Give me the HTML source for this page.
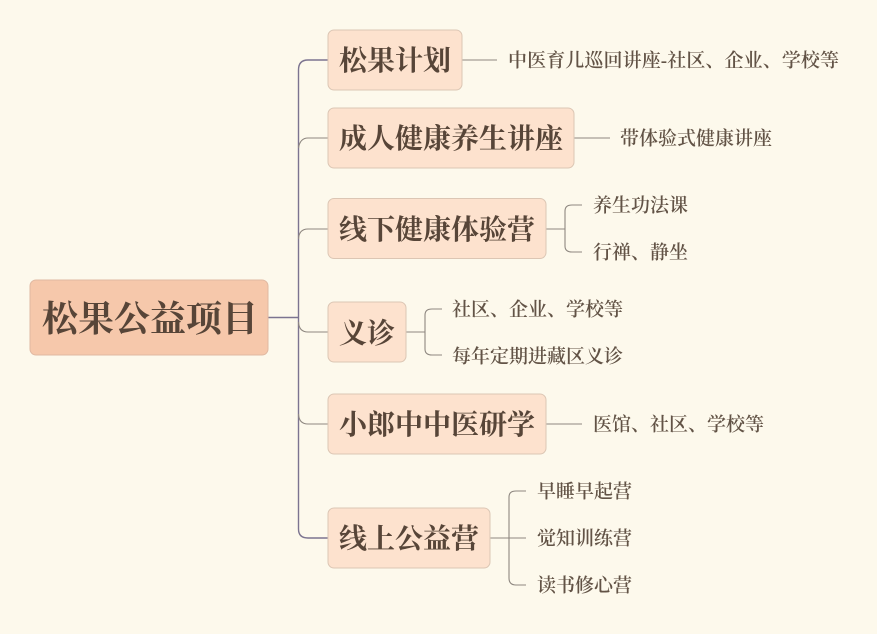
<!DOCTYPE html>
<html><head><meta charset="utf-8"><style>
html,body{margin:0;padding:0;background:#fdf9ec;width:877px;height:634px;overflow:hidden}
svg{display:block}
text{font-family:"Liberation Serif","Noto Serif CJK SC",serif;fill:#574538}
.r{font-size:36px;font-weight:700}
.c{font-size:28px;font-weight:700}
.l{font-size:19px;font-weight:600;fill:#625346}
.b{fill:#fde2ce;stroke:#dcc6b4;stroke-width:1}
path{fill:none;stroke:#8e8780;stroke-width:1.1}
.v{stroke:#7c7490;stroke-width:1.4}
</style></head><body>
<svg width="877" height="634" viewBox="0 0 877 634" xmlns="http://www.w3.org/2000/svg">
<rect width="877" height="634" fill="#fdf9ec"/>
<path class="v" d="M268 317.500H298"/>
<path class="v" d="M328 60H308Q298.500 60 298.500 70V529Q298.500 538 308 538H328"/>
<path d="M328 138H308Q300 138 298.500 148M328 229H308Q299 229 298.500 239M298.500 322Q299 332 308 332H328M298.500 414Q299 424 308 424H328"/>
<path d="M462 60H497M574 138H610"/>
<path d="M546 229H565M582 205H572Q565 205 565 211V246Q565 252 572 252H582"/>
<path d="M406 332H425M442 309H432Q425 309 425 315V349Q425 355 432 355H442"/>
<path d="M546 424H582"/>
<path d="M490 538H526M526 491H516Q509 491 509 497V578Q509 585 516 585H526"/>
<rect x="30" y="280" width="238" height="75" rx="6" fill="#f6c8ab" stroke="#e0b9a2"/>
<rect class="b" x="328" y="30" width="134" height="60" rx="6"/>
<rect class="b" x="328" y="108" width="246" height="60" rx="6"/>
<rect class="b" x="328" y="198.500" width="218" height="60" rx="6"/>
<rect class="b" x="328" y="302" width="78" height="60" rx="6"/>
<rect class="b" x="328" y="394" width="218" height="60" rx="6"/>
<rect class="b" x="328" y="508" width="162" height="60" rx="6"/>
<text class="r" x="42" y="331">松果公益项目</text>
<text class="c" x="339" y="70">松果计划</text>
<text class="c" x="339" y="148">成人健康养生讲座</text>
<text class="c" x="339" y="239">线下健康体验营</text>
<text class="c" x="339" y="343">义诊</text>
<text class="c" x="339" y="434">小郎中中医研学</text>
<text class="c" x="339" y="548">线上公益营</text>
<text class="l" x="508" y="66.500" style="letter-spacing:.1px">中医育儿巡回讲座-社区、企业、学校等</text>
<text class="l" x="620" y="144.500">带体验式健康讲座</text>
<text class="l" x="593" y="211.500">养生功法课</text>
<text class="l" x="593" y="258.500">行禅、静坐</text>
<text class="l" x="452" y="315.500">社区、企业、学校等</text>
<text class="l" x="452" y="362.500">每年定期进藏区义诊</text>
<text class="l" x="593" y="430.500">医馆、社区、学校等</text>
<text class="l" x="537" y="497.500">早睡早起营</text>
<text class="l" x="537" y="544.500">觉知训练营</text>
<text class="l" x="537" y="591.500">读书修心营</text>
</svg>
</body></html>
